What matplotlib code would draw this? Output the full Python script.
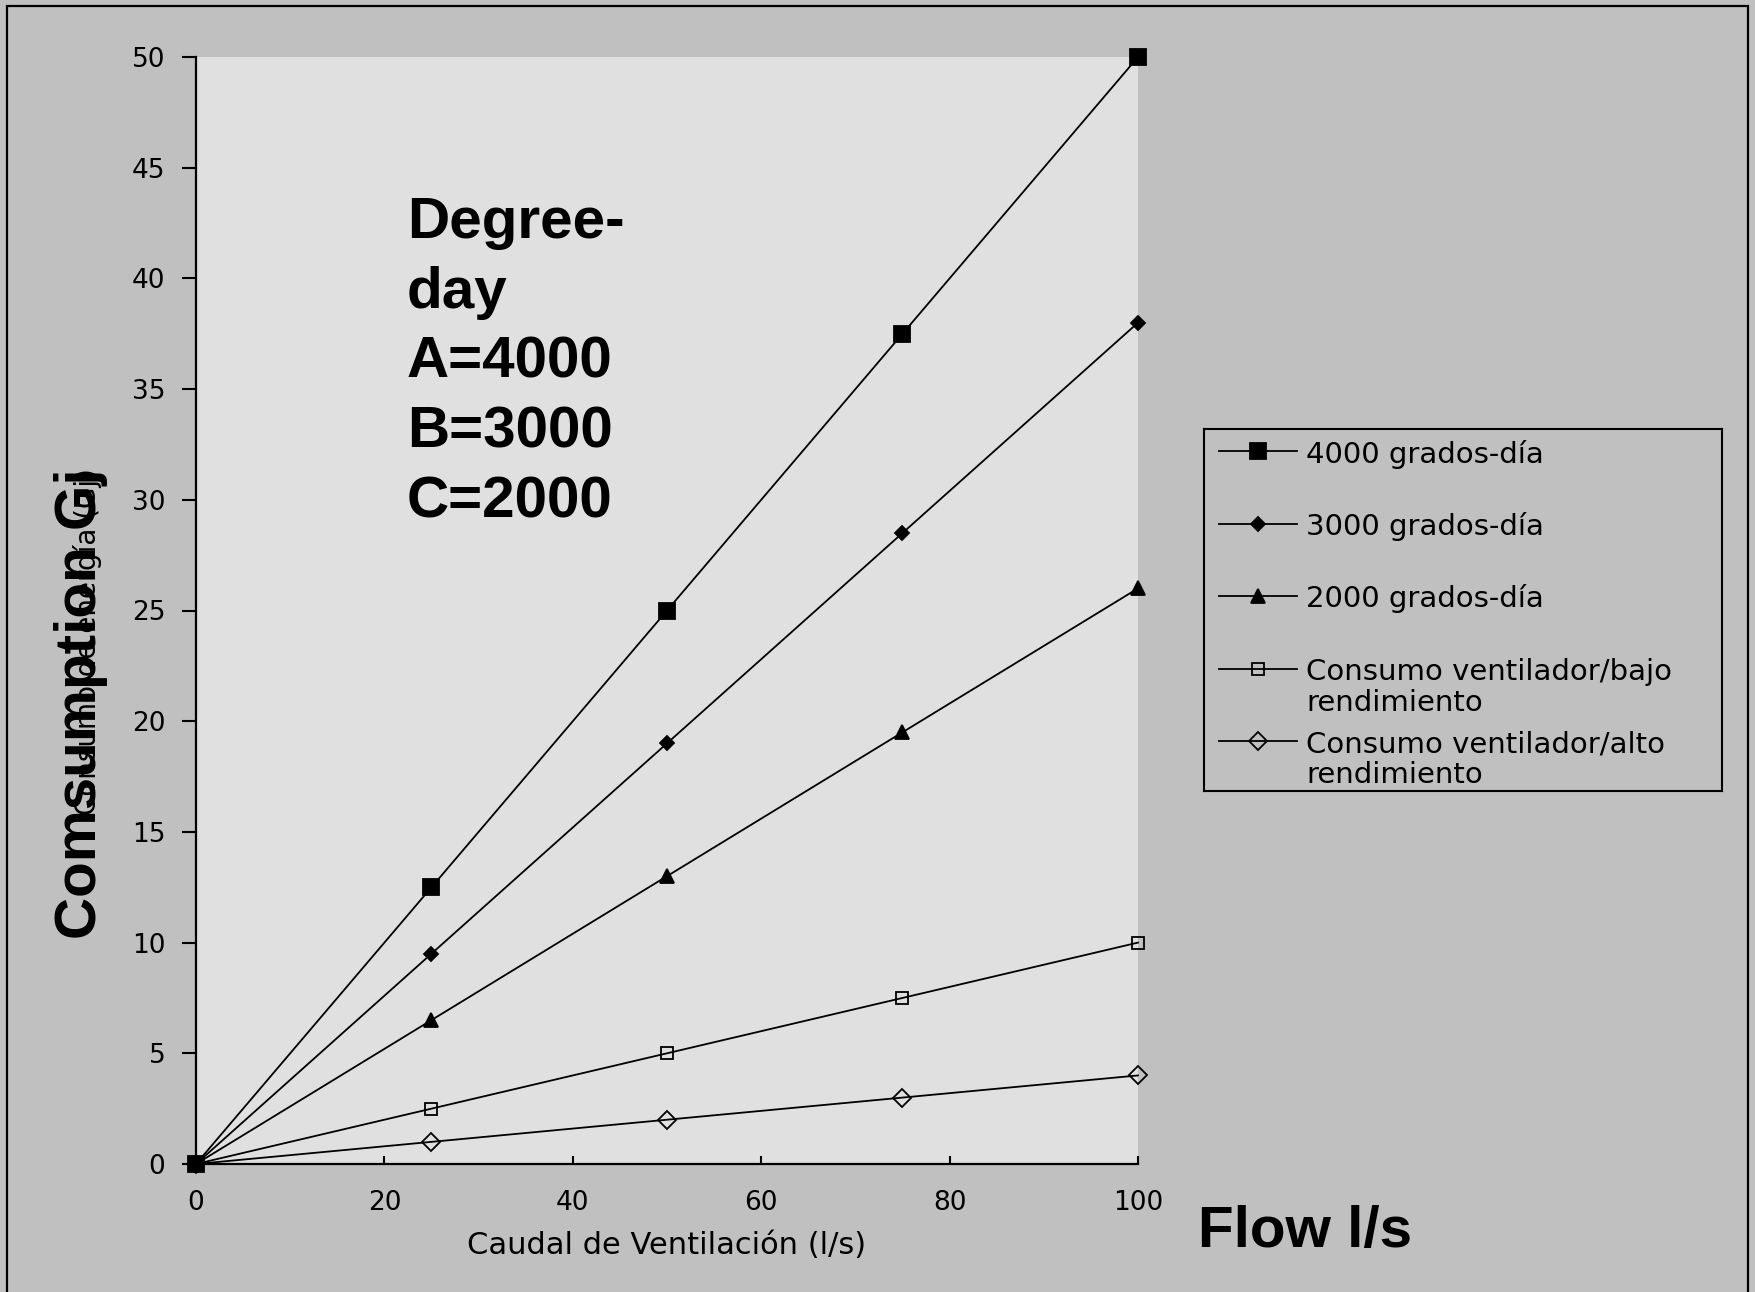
import matplotlib.pyplot as plt
from matplotlib.patches import Rectangle

# caudal de ventilación (l/s) y consumo (Gj) por serie
flow = [0, 25, 50, 75, 100]
grados_4000 = [0, 12.5, 25, 37.5, 50]
grados_3000 = [0, 9.5, 19, 28.5, 38]
grados_2000 = [0, 6.5, 13, 19.5, 26]
vent_bajo = [0, 2.5, 5, 7.5, 10]
vent_alto = [0, 1, 2, 3, 4]

series = [grados_4000, grados_3000, grados_2000, vent_bajo, vent_alto]
labels = ['4000 grados-día', '3000 grados-día', '2000 grados-día',
          'Consumo ventilador/bajo\nrendimiento',
          'Consumo ventilador/alto\nrendimiento']
markers = ['s', 'D', '^', 's', 'D']
msizes = [11, 7, 10, 9, 9]
filled = [True, True, True, False, False]

xticks = [0, 20, 40, 60, 80, 100]
yticks = [0, 5, 10, 15, 20, 25, 30, 35, 40, 45, 50]

W, H = 1756, 1292
BOLD = dict(family='Liberation Sans', weight='bold')

fig = plt.figure(figsize=(W / 100, H / 100), dpi=100, facecolor='#c0c0c0')
ax = fig.add_axes([196 / W, 1 - 1164 / H, 942 / W, 1107 / H], facecolor='#e0e0e0')

for vals, lab, m, ms, f in zip(series, labels, markers, msizes, filled):
    ax.plot(flow, vals, color='black', lw=1.3, marker=m, ms=ms,
            mfc='black' if f else 'none', mec='black', mew=1.3,
            clip_on=False, label=lab)

ax.set_xlim(0, 100)
ax.set_ylim(0, 50)
ax.set_xticks(xticks)
ax.set_yticks(yticks)
for s in ['top', 'right']:
    ax.spines[s].set_visible(False)
for s in ['left', 'bottom']:
    ax.spines[s].set_linewidth(1.6)
ax.tick_params(axis='y', direction='out', length=10, width=1.5, pad=12, labelsize=19)
ax.tick_params(axis='x', direction='in', length=6, width=1.5, pad=19, labelsize=19)

ax.set_xlabel('Caudal de Ventilación (l/s)', fontsize=22)
ax.xaxis.set_label_coords(0.5, -0.0732)
ax.xaxis.label.set_verticalalignment('center')

ax.text(22.4, 29.2, 'Degree-\nday\nA=4000\nB=3000\nC=2000',
        fontsize=42, va='baseline', ha='left', linespacing=1.38, **BOLD)

# eje vertical: rótulo original y rótulo en inglés encima
fig.text(88 / W, 1 - 468 / H, 'Consumo de energía (Gj)', rotation=90,
         va='top', ha='center', fontsize=20)
fig.text(81 / W, 1 - 939 / H, 'Comsumption Gj', rotation=90,
         va='bottom', ha='center', fontsize=42, **BOLD)
fig.text(1198 / W, 1 - 1247 / H, 'Flow l/s', va='baseline', ha='left',
         fontsize=42, **BOLD)

# leyenda con la muestra en la primera línea de cada rótulo
lax = fig.add_axes([1204 / W, 1 - 791 / H, 518 / W, 362 / H], facecolor='none')
lax.set_xlim(0, 1)
lax.set_ylim(0, 1)
lax.set_xticks([])
lax.set_yticks([])
for s in lax.spines.values():
    s.set_linewidth(1.5)
row_y = [0.939, 0.738, 0.539, 0.337, 0.138]
line_step = 0.086
for y, lab, m, ms, f in zip(row_y, labels, markers, msizes, filled):
    lax.plot([0.029, 0.104, 0.18], [y, y, y], color='black', lw=1.3,
             marker=m, ms=ms, markevery=[1],
             mfc='black' if f else 'none', mec='black', mew=1.3)
    for k, part in enumerate(lab.split('\n')):
        lax.text(0.197, y - k * line_step, part, fontsize=21,
                 va='center_baseline', ha='left')

# marco exterior del gráfico
fig.add_artist(Rectangle((7 / W, -0.1), (1748 - 7) / W, 1.1 - 6 / H,
                         transform=fig.transFigure, fill=False,
                         ec='black', lw=1.6))

fig.savefig('out.png', dpi=100, facecolor=fig.get_facecolor())
